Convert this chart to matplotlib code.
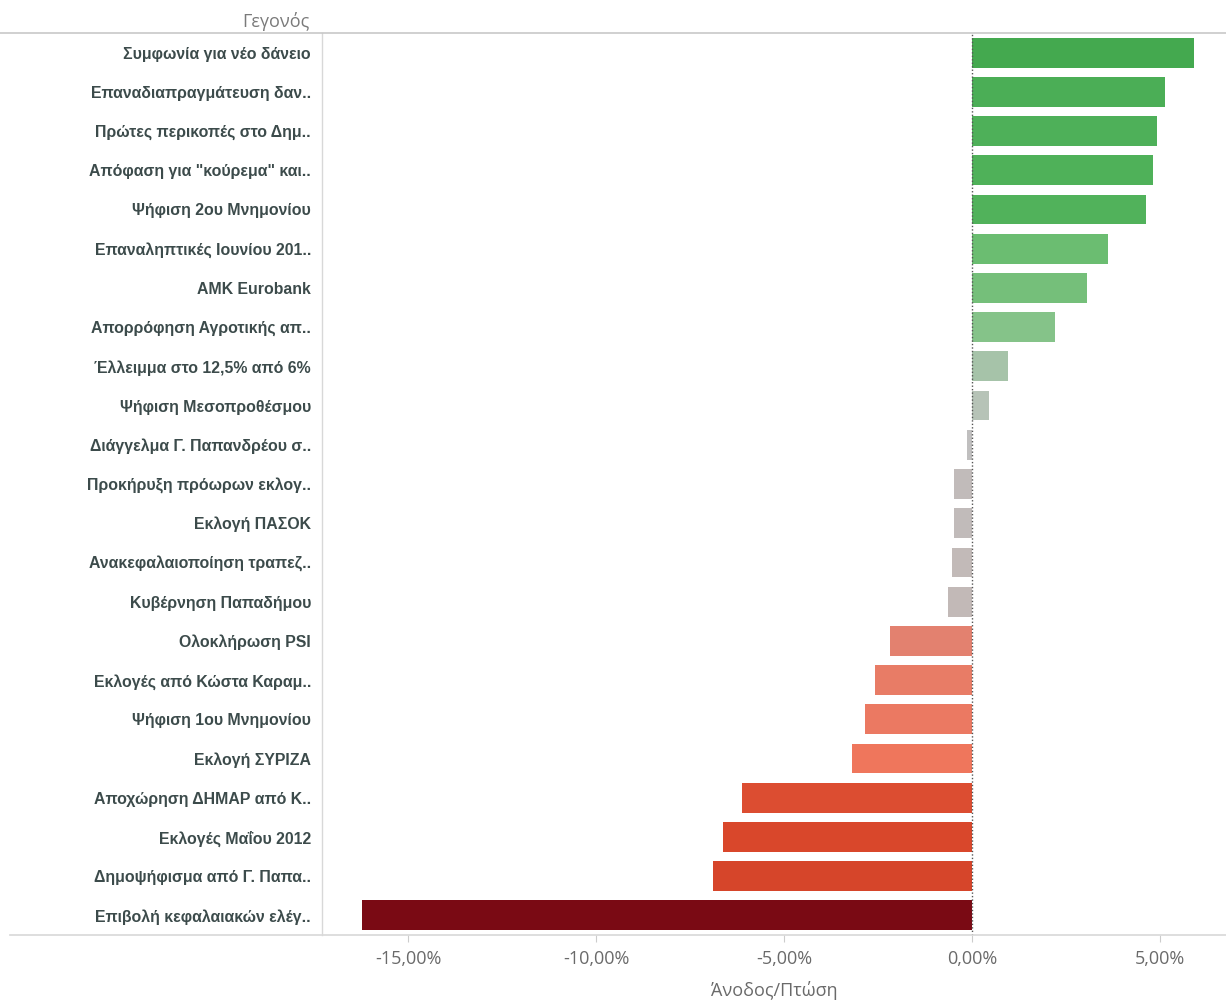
import matplotlib
matplotlib.use("Agg")
import matplotlib.pyplot as plt
from matplotlib.colors import LinearSegmentedColormap
from matplotlib.lines import Line2D
from matplotlib.ticker import FuncFormatter

events = [
    "Συμφωνία για νέο δάνειο",
    "Επαναδιαπραγμάτευση δαν..",
    "Πρώτες περικοπές στο Δημ..",
    "Απόφαση για \"κούρεμα\" και..",
    "Ψήφιση 2ου Μνημονίου",
    "Επαναληπτικές Ιουνίου 201..",
    "ΑΜΚ Eurobank",
    "Απορρόφηση Αγροτικής απ..",
    "Έλλειμμα στο 12,5% από 6%",
    "Ψήφιση Μεσοπροθέσμου",
    "Διάγγελμα Γ. Παπανδρέου σ..",
    "Προκήρυξη πρόωρων εκλογ..",
    "Εκλογή ΠΑΣΟΚ",
    "Ανακεφαλαιοποίηση τραπεζ..",
    "Κυβέρνηση Παπαδήμου",
    "Ολοκλήρωση PSI",
    "Εκλογές από Κώστα Καραμ..",
    "Ψήφιση 1ου Μνημονίου",
    "Εκλογή ΣΥΡΙΖΑ",
    "Αποχώρηση ΔΗΜΑΡ από Κ..",
    "Εκλογές Μαΐου 2012",
    "Δημοψήφισμα από Γ. Παπα..",
    "Επιβολή κεφαλαιακών ελέγ..",
]
change_pct = [5.90, 5.13, 4.92, 4.81, 4.63, 3.62, 3.06, 2.21, 0.96, 0.45,
              -0.13, -0.48, -0.47, -0.53, -0.64, -2.18, -2.58, -2.85, -3.19,
              -6.12, -6.62, -6.89, -16.22]
tick_values = [-15, -10, -5, 0, 5]
header = "Γεγονός"
x_title = "Άνοδος/Πτώση"

# colour scale (value anchors -> colours), Tableau-like red/green diverging
anchor_vals = [-16.22, -6.6, -3.2, -2.2, -0.6, 0.0, 0.5, 1.0, 2.2, 3.6, 4.6, 5.9]
anchor_cols = ["#7a0a14", "#d9472b", "#ef765c", "#e4806d", "#c2b9b7", "#c0c0c0",
               "#b4c4b6", "#a5c3a8", "#86c38a", "#6cbd72", "#52b35c", "#44a94f"]
vmin, vmax = anchor_vals[0], anchor_vals[-1]
cmap = LinearSegmentedColormap.from_list(
    "rg", [((v - vmin) / (vmax - vmin), c) for v, c in zip(anchor_vals, anchor_cols)])

plt.rcParams['font.family'] = ['Liberation Sans', 'DejaVu Sans']

W, H = 1226, 1001
fig = plt.figure(figsize=(W / 100, H / 100), dpi=100)
ax_left, ax_right = 322 / W, 1.0
ax_top, ax_bot = 1 - 33 / H, 1 - 935 / H
ax = fig.add_axes([ax_left, ax_bot, ax_right - ax_left, ax_top - ax_bot])

ypos = list(range(len(events)))
colors = [cmap((v - vmin) / (vmax - vmin)) for v in change_pct]
ax.barh(ypos, change_pct, height=0.76, color=colors, edgecolor='none', zorder=2)
ax.axvline(0, color='#555555', linestyle=(0, (1, 1.5)), lw=1.0, zorder=3)

ax.set_ylim(len(events) - 0.5, -0.5)
ax.set_xlim(-17.29, 6.76)
ax.set_yticks(ypos)
ax.set_yticklabels(events, fontsize=11.4, fontweight='bold', color='#3c4b4b')
ax.tick_params(axis='y', length=0, pad=8)
ax.set_xticks(tick_values)
ax.xaxis.set_major_formatter(FuncFormatter(lambda v, p: f"{v:.2f}%".replace('.', ',')))
ax.tick_params(axis='x', length=5, width=0.8, color='#cccccc', labelsize=13,
               labelcolor='#6a6a6a', pad=6)
for lbl in ax.get_xticklabels():
    lbl.set_family(['Open Sans', 'DejaVu Sans'])

ax.set_xlabel(x_title, fontsize=13, color='#6a6a6a', family=['Open Sans', 'DejaVu Sans'],
              va='center')
ax.xaxis.set_label_coords(0.5, ((1 - 990 / H) - ax_bot) / (ax_top - ax_bot))

for s in ['top', 'right', 'bottom']:
    ax.spines[s].set_visible(False)
ax.spines['left'].set_color('#d8d8d8')
ax.spines['left'].set_linewidth(1.0)

# header and frame lines
fig.add_artist(Line2D([0, 1], [ax_top, ax_top], color='#c8c8c8', lw=1.2,
                      transform=fig.transFigure))
fig.add_artist(Line2D([10 / W, 1], [ax_bot, ax_bot], color='#d8d8d8', lw=1.2,
                      transform=fig.transFigure))
fig.text(310 / W, 1 - 27 / H, header, ha='right', va='baseline', fontsize=13,
         color='#7a7a7a', family=['Open Sans', 'DejaVu Sans'])

fig.savefig("out.png", dpi=100, facecolor='white')
